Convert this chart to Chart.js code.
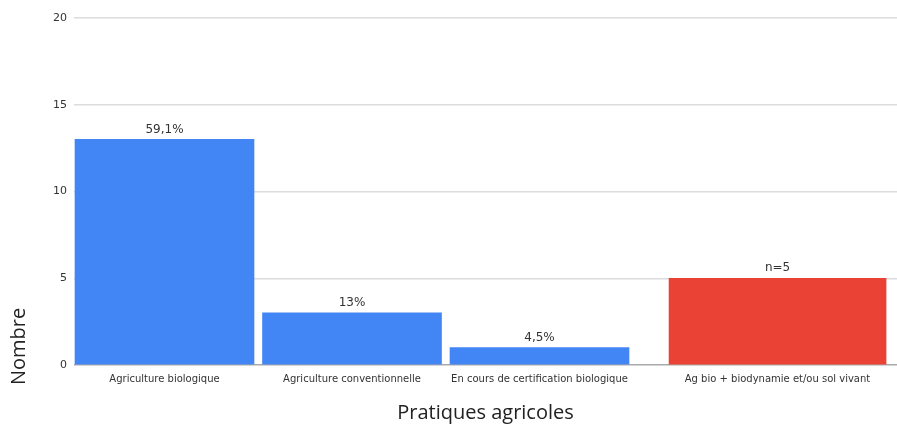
<!DOCTYPE html>
<html>
<head>
<meta charset="utf-8">
<script src="https://cdn.jsdelivr.net/npm/chart.js@4"></script>
<style>
  html, body { margin: 0; padding: 0; background: #fff; }
  #wrap { width: 897px; height: 425px; }
</style>
</head>
<body>
<div id="wrap"><canvas id="practicesChart"></canvas></div>
<script>
// --- data ---
const categories = ['Agriculture biologique', 'Agriculture conventionnelle', 'En cours de certification biologique', 'Ag bio + biodynamie et/ou sol vivant'];
const counts = [13, 3, 1, 5];
const valueLabels = ['59,1%', '13%', '4,5%', 'n=5'];
const highlighted = [false, false, false, true];
const yTicks = [0, 5, 10, 15, 20];

const BLUE = '#4285f4';
const RED = '#ea4335';

// x ranges: the highlighted bar sits on its own hidden axis, set further right
const X_RANGE = { min: -0.4827, max: 3.9067 };
const X_HI_RANGE = { min: -0.752, max: 3.637 };

// one dataset for the regular bars, one for the highlighted bar
const toPoints = (keep) => counts
    .map((v, i) => ({ x: i, y: v }))
    .filter((p) => highlighted[p.x] === keep);

// where a category sits on the visible x axis
const tickValue = (i) => highlighted[i] ? i + (X_RANGE.min - X_HI_RANGE.min) : i;

// value labels above each bar
const barLabels = {
    id: 'barLabels',
    afterDatasetsDraw(chart) {
        const ctx = chart.ctx;
        ctx.save();
        ctx.font = '12px "DejaVu Sans"';
        ctx.fillStyle = '#333';
        ctx.textAlign = 'center';
        ctx.textBaseline = 'bottom';
        chart.data.datasets.forEach((ds, di) => {
            chart.getDatasetMeta(di).data.forEach((bar, j) => {
                ctx.fillText(valueLabels[ds.data[j].x], bar.x, bar.y - 4);
            });
        });
        ctx.restore();
    }
};

// y title, hung low beside the axis so it starts below the baseline
const yTitle = {
    id: 'yTitle',
    afterDraw(chart) {
        const { ctx, chartArea } = chart;
        ctx.save();
        ctx.translate(chartArea.left - 55, chartArea.bottom + 20);
        ctx.rotate(-Math.PI / 2);
        ctx.font = '20px "Open Sans"';
        ctx.fillStyle = '#222';
        ctx.textAlign = 'left';
        ctx.textBaseline = 'middle';
        ctx.fillText('Nombre', 0, 0);
        ctx.restore();
    }
};

new Chart(document.getElementById('practicesChart').getContext('2d'), {
    type: 'bar',
    data: {
        datasets: [
            { data: toPoints(false), backgroundColor: BLUE, barThickness: 179, grouped: false, xAxisID: 'x' },
            { data: toPoints(true), backgroundColor: RED, barThickness: 217, grouped: false, xAxisID: 'x2' }
        ]
    },
    options: {
        responsive: true, maintainAspectRatio: false, animation: false,
        layout: { padding: { top: 18, right: 0, bottom: 0, left: 0 } },
        plugins: { legend: { display: false }, tooltip: { enabled: false } },
        scales: {
            x: {
                type: 'linear',
                offset: false,
                min: X_RANGE.min, max: X_RANGE.max,
                afterBuildTicks: (scale) => { scale.ticks = categories.map((_, i) => ({ value: tickValue(i) })); },
                grid: { display: false, drawTicks: false },
                border: { display: false },
                ticks: {
                    autoSkip: false, maxRotation: 0, padding: 8,
                    font: { family: 'DejaVu Sans', size: 10 }, color: '#333',
                    callback: (v, i) => categories[i]
                },
                title: {
                    display: true, text: 'Pratiques agricoles',
                    font: { family: 'Open Sans', size: 20 }, color: '#222',
                    padding: { top: 8, bottom: 0 }
                }
            },
            x2: {
                type: 'linear',
                display: false,
                offset: false,
                min: X_HI_RANGE.min, max: X_HI_RANGE.max
            },
            y: {
                min: 0, max: 20,
                afterBuildTicks: (scale) => { scale.ticks = yTicks.map((v) => ({ value: v })); },
                afterFit: (scale) => { scale.width = 74; },
                grid: {
                    drawTicks: false, lineWidth: 1.5,
                    color: (c) => c.tick && c.tick.value === 0 ? '#aaa' : '#dcdcdc'
                },
                border: { display: false },
                ticks: { padding: 7, font: { family: 'DejaVu Sans', size: 11 }, color: '#333' }
            }
        }
    },
    plugins: [barLabels, yTitle]
});
</script>
</body>
</html>
